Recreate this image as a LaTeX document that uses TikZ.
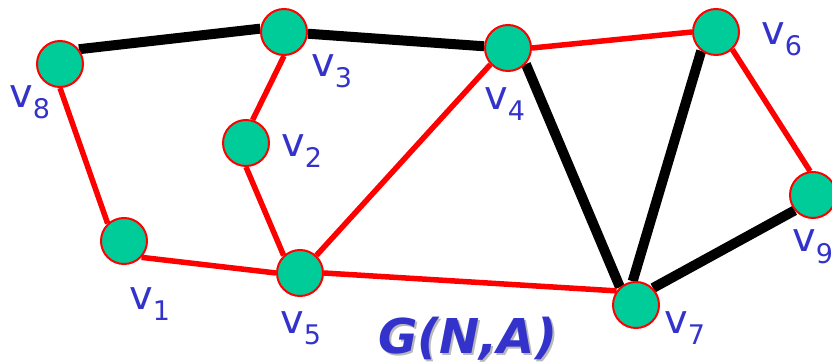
\documentclass[tikz,border=0pt]{standalone}
\usepackage{fontspec}
\setmainfont{DejaVu Sans}
\usetikzlibrary{backgrounds}
\definecolor{NodeGreen}{HTML}{00CC99}
\definecolor{LabelBlue}{HTML}{3333CC}
\newcommand{\vlab}[1]{{\fontsize{40}{40}\selectfont v\raisebox{-11pt}{\fontsize{27}{27}\selectfont #1}}}

\begin{document}
\begin{tikzpicture}[x=1pt,y=-1pt,
  vert/.style={circle,fill=NodeGreen,draw=red,line width=2pt,minimum size=46pt,inner sep=0pt},
  vlabel/.style={anchor=base west,inner sep=0pt,text=LabelBlue},
  tree/.style={line width=10pt},
  arc/.style={red,line width=5.5pt}]
\useasboundingbox (0,0) rectangle (832,363);
% vertices
\node[vert] (v1) at (124,241) {};
\node[vert] (v2) at (246,143) {};
\node[vert] (v3) at (284,32) {};
\node[vert] (v4) at (508,48) {};
\node[vert] (v5) at (300,273) {};
\node[vert] (v6) at (716,32) {};
\node[vert] (v7) at (636,305) {};
\node[vert] (v8) at (60,64) {};
\node[vert] (v9) at (813,195) {};
% names
\node[vlabel] (l1) at (129,309) {\vlab{1}};
\node[vlabel] (l2) at (281,157) {\vlab{2}};
\node[vlabel] (l3) at (311,77) {\vlab{3}};
\node[vlabel] (l4) at (484,110) {\vlab{4}};
\node[vlabel] (l5) at (280,333) {\vlab{5}};
\node[vlabel] (l6) at (761,45) {\vlab{6}};
\node[vlabel] (l7) at (664,333) {\vlab{7}};
\node[vlabel] (l8) at (9,108) {\vlab{8}};
\node[vlabel] (l9) at (792,252) {\vlab{9}};
% edges, thick ones are the tree
\begin{pgfonlayer}{background}
\draw[tree] (v8.38) -- (v3.172);
\draw[tree] (v3) -- (v4);
\draw[tree] (v4.-42) -- (v7.132);
\draw[tree] (v6.232) -- (v7.98);
\draw[tree] (v7.45) -- (v9.220);
\draw[arc] (v8.south) -- (v1.133);
\draw[arc] (v3.south) -- (v2.74);
\draw[arc] (v2.south) -- (v5.133);
\draw[arc] (v1.-43) -- (v5.west);
\draw[arc] (v5.47) -- (v4.223);
\draw[arc] (v4.east) -- (v6.west);
\draw[arc] (v6.-47) -- (v9.97);
\draw[arc] (v5.east) -- (v7.144);
\end{pgfonlayer}
% graph name
\node[anchor=base west,inner sep=0pt,text=gray!55,font=\fontsize{48}{48}\selectfont\bfseries\itshape] (gshadow) at (380,355) {G(N,A)};
\node[anchor=base west,inner sep=0pt,text=LabelBlue,font=\fontsize{48}{48}\selectfont\bfseries\itshape] (gna) at (378,353) {G(N,A)};
\end{tikzpicture}
\end{document}
